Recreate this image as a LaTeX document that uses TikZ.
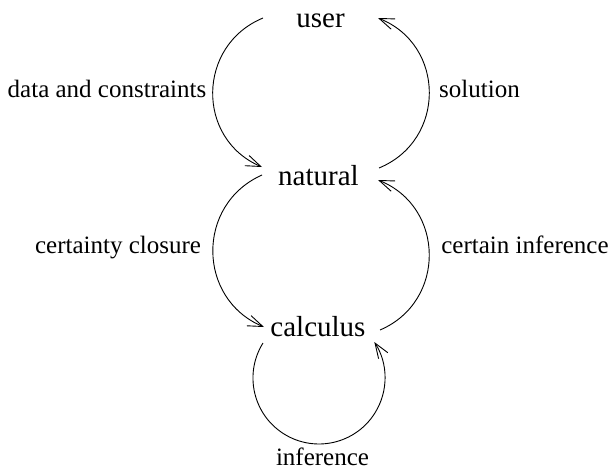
\documentclass[tikz,border=0pt]{standalone}
\usepackage{fontspec}
\setmainfont{Liberation Serif}
\newfontfamily\tnrfont{Liberation Serif}
\usetikzlibrary{arrows.meta,calc}
\begin{document}
\begin{tikzpicture}[x=1pt,y=1pt,
  mainlbl/.style={anchor=base,inner sep=0pt,font=\tnrfont\fontsize{29}{32}\selectfont},
  edgelbl/.style={anchor=base,inner sep=0pt,font=\tnrfont\fontsize{25}{28}\selectfont},
  flow/.style={line width=0.9pt,-{Straight Barb[length=15pt,width=11pt,line width=0.9pt]}}]
\useasboundingbox (0,0) rectangle (610,-475);
\node[mainlbl] (user) at (320.5,-27) {user};
\node[mainlbl] (natural) at (318.5,-185) {natural};
\node[mainlbl] (calculus) at (318,-336) {calculus};
\node[edgelbl] (dc) at (107,-97) {data and constraints};
\node[edgelbl] (sol) at (479.5,-97) {solution};
\node[edgelbl] (cc) at (118,-253) {certainty closure};
\node[edgelbl] (ci) at (525,-253) {certain inference};
\node[edgelbl] (inf) at (322.5,-465) {inference};
\draw[flow] ($(user.base)+(-57.5,9)$) to[out=202.5,in=157,looseness=1.23] ($(natural.base)+(-56.5,18)$);
\draw[flow] ($(natural.base)+(60.5,17)$) to[out=22.4,in=-21.7,looseness=1.24] ($(user.base)+(57.5,9)$);
\draw[flow] ($(natural.base)+(-56.5,10)$) to[out=204,in=157.3,looseness=1.22] ($(calculus.base)+(-54,9)$);
\draw[flow] ($(calculus.base)+(62,6)$) to[out=23.1,in=-21.8,looseness=1.23] ($(natural.base)+(59.5,5)$);
\draw[flow] ($(calculus.base)+(-55,-7)$) arc[start angle=148,end angle=393,radius=66];
\end{tikzpicture}
\end{document}
